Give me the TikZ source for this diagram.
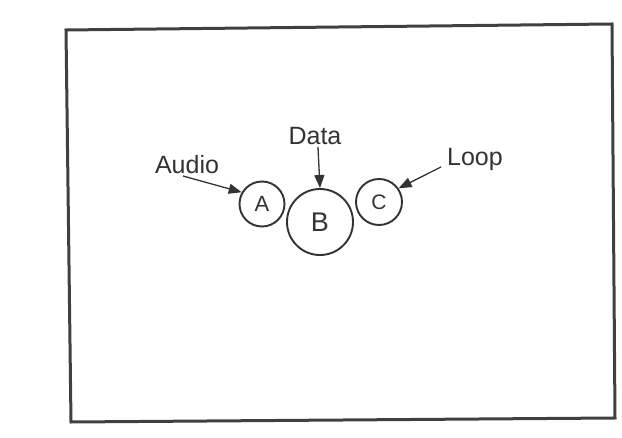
\documentclass[tikz,border=0pt]{standalone}
\usepackage{fontspec}
\setmainfont{Liberation Sans}
\usetikzlibrary{arrows.meta}
\begin{document}
\begin{tikzpicture}[x=1pt,y=-1pt,
  ring/.style={draw=black!80,line width=1.9pt,circle,inner sep=0pt,text=black!80},
  lbl/.style={text=black!80,font=\fontsize{25}{30}\selectfont,inner sep=0pt},
  ptr/.style={draw=black!80,line width=1.3pt,-{Triangle[length=13pt,width=10pt]}}]
\useasboundingbox (0,0) rectangle (622,438);
\fill[white] (0,0) rectangle (622,438);
\coordinate (tl) at (66,30);
\coordinate (tr) at (612,24);
\coordinate (br) at (615,418);
\coordinate (bl) at (71,422);
\draw[black!75,line width=3pt,line join=miter] (tl) -- (tr) -- (br) -- (bl) -- cycle;
\node[ring,minimum size=45pt,font=\fontsize{22}{26}\selectfont] (A) at (262,204) {A};
\node[ring,minimum size=66pt,font=\fontsize{27}{32}\selectfont] (B) at (320,222) {B};
\node[ring,minimum size=46pt,font=\fontsize{21}{26}\selectfont] (C) at (379,202) {C};
\node[lbl] (audio) at (187,165) {Audio};
\node[lbl] (data) at (315,136) {Data};
\node[lbl] (loop) at (475,159) {Loop};
\coordinate (as) at (183,176);
\coordinate (ds) at (318,147);
\coordinate (ls) at (441,167);
\draw[ptr] (as) -- (A.150);
\draw[ptr] (ds) -- (B.north);
\draw[ptr] (ls) -- (C.35);
\end{tikzpicture}
\end{document}
